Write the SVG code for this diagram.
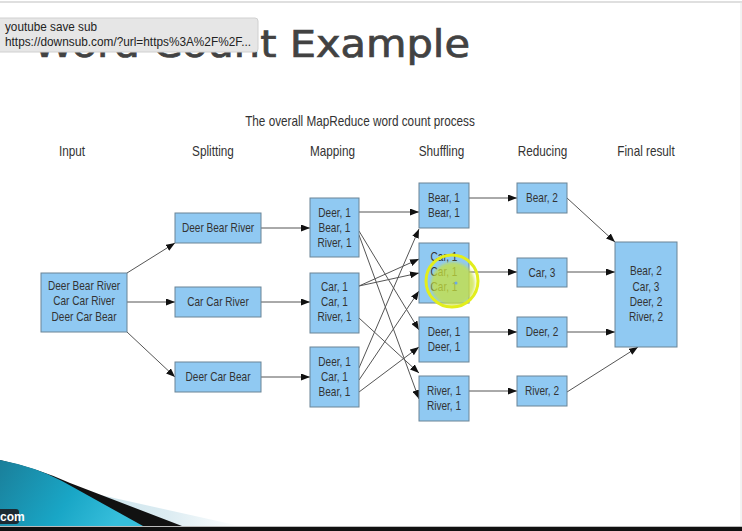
<svg xmlns="http://www.w3.org/2000/svg" width="742" height="531" viewBox="0 0 742 531">
  <style>
    .t { font-family: "Liberation Sans", Arial, sans-serif; fill: #333; text-anchor: middle;
         transform-box: fill-box; transform-origin: center; transform: scaleX(0.84); }
    .n { font-size: 12px; }
    .h { font-size: 14px; }
    .box { fill: #90c9f2; stroke: #6a8496; stroke-width: 1; }
    .edge { stroke: #555; stroke-width: 1; fill: none; marker-end: url(#arr); }
  </style>
  <defs>
    <marker id="arr" markerUnits="userSpaceOnUse" markerWidth="9" markerHeight="7" refX="9" refY="3.5" orient="auto">
      <path d="M0,0 L9,3.5 L0,7 z" fill="#111"/>
    </marker>
    <linearGradient id="teal" x1="0" y1="0" x2="1" y2="0.3">
      <stop offset="0" stop-color="#1a7f9a"/>
      <stop offset="0.6" stop-color="#19a6c6"/>
      <stop offset="1" stop-color="#36bedb"/>
    </linearGradient>
    <linearGradient id="pale" x1="0" y1="0" x2="1" y2="0">
      <stop offset="0" stop-color="#b9dbe6"/>
      <stop offset="0.7" stop-color="#dcecf2"/>
      <stop offset="1" stop-color="#ffffff"/>
    </linearGradient>
    <filter id="soft" x="-20%" y="-20%" width="140%" height="140%">
      <feGaussianBlur stdDeviation="1.5"/>
    </filter>
  </defs>

  <!-- slide background and frame -->
  <rect width="742" height="531" fill="#fff"/>
  <line x1="0" y1="2" x2="742" y2="2" stroke="#d4d4d4" stroke-width="1.5"/>
  <line x1="741" y1="2" x2="741" y2="526" stroke="#e6e6e6" stroke-width="1"/>

  <!-- slide title -->
  <text x="33" y="57" textLength="437" lengthAdjust="spacingAndGlyphs" font-family="'DejaVu Sans', sans-serif" font-size="37" fill="#424242" stroke="#424242" stroke-width="0.7">Word Count Example</text>

  <!-- tooltip over the title -->
  <g id="tooltip">
    <rect x="-3" y="18" width="261" height="34" rx="3" fill="#e6e6e6" stroke="#d0d0d0" stroke-width="1"/>
    <text x="5" y="31" font-family="'Liberation Sans', Arial, sans-serif" font-size="12" fill="#222" textLength="92" lengthAdjust="spacingAndGlyphs">youtube save sub</text>
    <text x="5" y="46" font-family="'Liberation Sans', Arial, sans-serif" font-size="12" fill="#222" textLength="246" lengthAdjust="spacingAndGlyphs">https://downsub.com/?url=https%3A%2F%2F...</text>
  </g>

  <!-- diagram caption and column headers -->
  <text class="t h" x="360" y="126">The overall MapReduce word count process</text>
  <g id="headers">
    <text class="t h" x="72" y="156">Input</text>
    <text class="t h" x="213" y="156">Splitting</text>
    <text class="t h" x="332.5" y="156">Mapping</text>
    <text class="t h" x="441.5" y="156">Shuffling</text>
    <text class="t h" x="542.5" y="156">Reducing</text>
    <text class="t h" x="646" y="156">Final result</text>
  </g>

  <!-- connectors -->
  <g id="connectors">
    <line class="edge" x1="127" y1="273" x2="175" y2="243"/>
    <line class="edge" x1="127" y1="302" x2="175" y2="302"/>
    <line class="edge" x1="127" y1="332" x2="175" y2="377"/>

    <line class="edge" x1="261" y1="228" x2="310" y2="228"/>
    <line class="edge" x1="261" y1="302" x2="310" y2="302"/>
    <line class="edge" x1="261" y1="377" x2="310" y2="377"/>

    <line class="edge" x1="359" y1="212" x2="419" y2="212"/>
    <line class="edge" x1="359" y1="231" x2="419" y2="330"/>
    <line class="edge" x1="359" y1="235" x2="419" y2="399"/>
    <line class="edge" x1="359" y1="286" x2="419" y2="259"/>
    <line class="edge" x1="359" y1="286" x2="419" y2="273"/>
    <line class="edge" x1="359" y1="318" x2="419" y2="373"/>
    <line class="edge" x1="359" y1="368" x2="419" y2="229"/>
    <line class="edge" x1="359" y1="380" x2="419" y2="291"/>
    <line class="edge" x1="359" y1="392" x2="419" y2="347"/>

    <line class="edge" x1="469" y1="198" x2="517" y2="198"/>
    <line class="edge" x1="469" y1="272" x2="517" y2="272"/>
    <line class="edge" x1="469" y1="332" x2="517" y2="332"/>
    <line class="edge" x1="469" y1="391" x2="517" y2="391"/>

    <line class="edge" x1="567" y1="198" x2="615" y2="242"/>
    <line class="edge" x1="567" y1="272" x2="615" y2="272"/>
    <line class="edge" x1="567" y1="332" x2="615" y2="332"/>
    <line class="edge" x1="567" y1="392" x2="638" y2="347"/>
  </g>

  <!-- input -->
  <g id="input">
    <rect class="box" x="41" y="273" width="86" height="59"/>
    <text class="t n" x="84" y="290">Deer Bear River</text>
    <text class="t n" x="84" y="305">Car Car River</text>
    <text class="t n" x="84" y="321">Deer Car Bear</text>
  </g>

  <!-- splitting -->
  <g id="split-1">
    <rect class="box" x="175" y="213" width="86" height="30"/>
    <text class="t n" x="218" y="232">Deer Bear River</text>
  </g>
  <g id="split-2">
    <rect class="box" x="175" y="287" width="86" height="30"/>
    <text class="t n" x="218" y="306">Car Car River</text>
  </g>
  <g id="split-3">
    <rect class="box" x="175" y="362" width="86" height="30"/>
    <text class="t n" x="218" y="381">Deer Car Bear</text>
  </g>

  <!-- mapping -->
  <g id="map-1">
    <rect class="box" x="310" y="198" width="49" height="59"/>
    <text class="t n" x="334.5" y="217">Deer, 1</text>
    <text class="t n" x="334.5" y="232">Bear, 1</text>
    <text class="t n" x="334.5" y="247">River, 1</text>
  </g>
  <g id="map-2">
    <rect class="box" x="310" y="273" width="49" height="60"/>
    <text class="t n" x="334.5" y="291">Car, 1</text>
    <text class="t n" x="334.5" y="306">Car, 1</text>
    <text class="t n" x="334.5" y="321">River, 1</text>
  </g>
  <g id="map-3">
    <rect class="box" x="310" y="347" width="49" height="60"/>
    <text class="t n" x="334.5" y="366">Deer, 1</text>
    <text class="t n" x="334.5" y="381">Car, 1</text>
    <text class="t n" x="334.5" y="396">Bear, 1</text>
  </g>

  <!-- shuffling -->
  <g id="shuffle-bear">
    <rect class="box" x="419" y="183" width="50" height="45"/>
    <text class="t n" x="444" y="202">Bear, 1</text>
    <text class="t n" x="444" y="217">Bear, 1</text>
  </g>
  <g id="shuffle-car">
    <rect class="box" x="419" y="243" width="50" height="60"/>
    <text class="t n" x="444" y="261">Car, 1</text>
    <text class="t n" x="444" y="276">Car, 1</text>
    <text class="t n" x="444" y="291">Car, 1</text>
  </g>
  <g id="shuffle-deer">
    <rect class="box" x="419" y="317" width="50" height="45"/>
    <text class="t n" x="444" y="336">Deer, 1</text>
    <text class="t n" x="444" y="351">Deer, 1</text>
  </g>
  <g id="shuffle-river">
    <rect class="box" x="419" y="376" width="50" height="45"/>
    <text class="t n" x="444" y="395">River, 1</text>
    <text class="t n" x="444" y="410">River, 1</text>
  </g>

  <!-- reducing -->
  <g id="reduce-bear">
    <rect class="box" x="517" y="183" width="50" height="30"/>
    <text class="t n" x="542" y="202">Bear, 2</text>
  </g>
  <g id="reduce-car">
    <rect class="box" x="517" y="258" width="50" height="29"/>
    <text class="t n" x="542" y="277">Car, 3</text>
  </g>
  <g id="reduce-deer">
    <rect class="box" x="517" y="317" width="50" height="30"/>
    <text class="t n" x="542" y="336">Deer, 2</text>
  </g>
  <g id="reduce-river">
    <rect class="box" x="517" y="376" width="50" height="30"/>
    <text class="t n" x="542" y="395">River, 2</text>
  </g>

  <!-- final result -->
  <g id="final">
    <rect class="box" x="615" y="242" width="62" height="105"/>
    <text class="t n" x="646" y="275">Bear, 2</text>
    <text class="t n" x="646" y="291">Car, 3</text>
    <text class="t n" x="646" y="306">Deer, 2</text>
    <text class="t n" x="646" y="321">River, 2</text>
  </g>

  <!-- pointer highlight -->
  <g id="pointer">
    <circle cx="453" cy="284" r="22" fill="#c9e23c" opacity="0.75" filter="url(#soft)"/>
    <circle cx="452" cy="281" r="26" fill="none" stroke="#e2ee1c" stroke-width="3"/>
    <circle cx="456" cy="283" r="1.5" fill="#6aa8e8"/>
  </g>

  <!-- slide footer swoosh -->
  <g id="footer">
    <path d="M0,468 L60,486 L240,526 L0,526 z" fill="url(#pale)"/>
    <path d="M0,460 Q40,469 70,483 L182,526 L0,526 z" fill="#111"/>
    <path d="M0,460 Q36,467 62,481 L143,526 L0,526 z" fill="url(#teal)"/>
    <rect x="-6" y="509" width="25" height="15" rx="3" fill="#1c2a33"/>
    <text x="0" y="521" font-family="'Liberation Sans', Arial, sans-serif" font-weight="bold" font-size="12" fill="#fff">com</text>
    <line x1="0" y1="526.5" x2="742" y2="526.5" stroke="#bbb" stroke-width="1"/>
    <rect x="0" y="527" width="742" height="4" fill="#111"/>
  </g>
</svg>
